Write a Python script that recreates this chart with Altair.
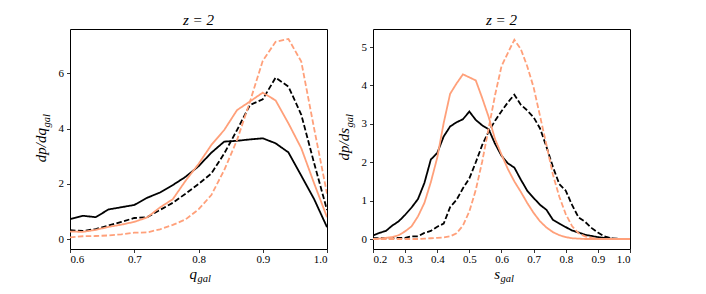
import altair as alt
import pandas as pd

# ---------------- data ----------------
q_x = [0.60, 0.62, 0.64, 0.66, 0.68, 0.70, 0.72, 0.74, 0.76, 0.78, 0.80,
       0.82, 0.84, 0.86, 0.88, 0.90, 0.92, 0.94, 0.96, 0.98, 1.00]
q_black_solid = [0.73, 0.85, 0.80, 1.08, 1.16, 1.24, 1.50, 1.69, 1.96, 2.26, 2.64,
                 3.13, 3.53, 3.56, 3.61, 3.65, 3.47, 3.14, 2.30, 1.45, 0.44]
q_black_dashed = [0.33, 0.30, 0.37, 0.50, 0.63, 0.77, 0.80, 1.06, 1.32, 1.65, 2.00,
                  2.38, 3.10, 3.95, 4.85, 5.06, 5.84, 5.52, 4.50, 2.75, 1.06]
q_orange_solid = [0.28, 0.27, 0.34, 0.45, 0.53, 0.63, 0.79, 1.15, 1.45, 2.12, 2.72,
                  3.41, 3.95, 4.67, 4.98, 5.30, 5.02, 4.19, 3.29, 2.02, 0.80]
q_orange_dashed = [0.07, 0.11, 0.12, 0.14, 0.18, 0.24, 0.25, 0.36, 0.52, 0.72, 1.08,
                   1.60, 2.50, 3.59, 4.97, 6.45, 7.14, 7.24, 6.42, 4.00, 1.65]

s_x = [0.20, 0.22, 0.24, 0.26, 0.28, 0.30, 0.32, 0.34, 0.36, 0.38, 0.40,
       0.42, 0.44, 0.46, 0.48, 0.50, 0.52, 0.54, 0.56, 0.58, 0.60,
       0.62, 0.64, 0.66, 0.68, 0.70, 0.72, 0.74, 0.76, 0.78, 0.80,
       0.82, 0.84, 0.86, 0.88, 0.90, 0.92, 0.94, 0.96, 0.98, 1.00]
s_black_solid = [0.09, 0.16, 0.21, 0.35, 0.46, 0.63, 0.82, 1.04, 1.46, 2.07, 2.24,
                 2.67, 2.93, 3.04, 3.12, 3.32, 3.10, 2.96, 2.86, 2.48, 2.17,
                 1.97, 1.86, 1.55, 1.26, 1.07, 0.89, 0.76, 0.50, 0.40, 0.31,
                 0.22, 0.17, 0.11, 0.08, 0.05, 0.03, 0.01, 0.00, 0.00, 0.00]
s_black_dashed = [0.02, 0.02, 0.02, 0.02, 0.03, 0.03, 0.07, 0.07, 0.16, 0.21, 0.32,
                  0.40, 0.83, 1.02, 1.32, 1.58, 2.00, 2.45, 2.80, 3.08, 3.33,
                  3.56, 3.76, 3.50, 3.35, 3.17, 2.88, 2.40, 1.88, 1.43, 1.26,
                  0.88, 0.56, 0.45, 0.29, 0.17, 0.07, 0.02, 0.01, 0.00, 0.00]
s_orange_solid = [0.00, 0.01, 0.03, 0.05, 0.10, 0.20, 0.33, 0.59, 0.94, 1.48, 2.12,
                  3.02, 3.78, 4.05, 4.29, 4.21, 4.13, 3.67, 3.18, 2.60, 2.20,
                  1.82, 1.50, 1.23, 0.94, 0.68, 0.46, 0.30, 0.18, 0.10, 0.05,
                  0.02, 0.01, 0.00, 0.00, 0.00, 0.00, 0.00, 0.00, 0.00, 0.00]
s_orange_dashed = [0.00, 0.00, 0.00, 0.00, 0.00, 0.00, 0.00, 0.00, 0.01, 0.02, 0.03,
                   0.04, 0.07, 0.15, 0.35, 0.72, 1.28, 2.02, 2.88, 3.75, 4.50,
                   4.85, 5.19, 4.95, 4.50, 3.95, 3.20, 2.45, 1.68, 1.10, 0.65,
                   0.33, 0.15, 0.07, 0.03, 0.01, 0.00, 0.00, 0.00, 0.00, 0.00]

q_ticks = [0.6, 0.7, 0.8, 0.9, 1.0]
q_yticks = [0, 2, 4, 6]
s_ticks = [0.2, 0.3, 0.4, 0.5, 0.6, 0.7, 0.8, 0.9, 1.0]
s_yticks = [0, 1, 2, 3, 4, 5]

SERIES = ["black_solid", "black_dashed", "orange_solid", "orange_dashed"]
COLORS = ["#000000", "#000000", "#FFA07A", "#FFA07A"]
DASHES = [[1, 0], [5.5, 2.4], [1, 0], [5.5, 2.4]]

SERIF = "Liberation Serif"
W, H = 257, 220


def long_df(x, cols):
    rows = []
    for name, vals in zip(SERIES, cols):
        for xv, yv in zip(x, vals):
            rows.append({"x": xv, "y": yv, "series": name})
    return pd.DataFrame(rows)


def label(text, x, y, size, align, angle=0):
    return alt.Chart(pd.DataFrame({"t": [text]})).mark_text(
        font=SERIF, fontStyle="italic", fontSize=size, align=align,
        baseline="alphabetic", angle=angle, color="#000"
    ).encode(x=alt.value(x), y=alt.value(y), text="t:N")


def panel(df, xdom, ydom, xticks, yticks, xmain, ymain):
    lines = alt.Chart(df).mark_line(strokeWidth=1.8, clip=True).encode(
        x=alt.X("x:Q", scale=alt.Scale(domain=xdom, nice=False, zero=False),
                axis=alt.Axis(values=xticks, format=".1f", title=None,
                              labelFont=SERIF, labelFontSize=11, labelPadding=1)),
        y=alt.Y("y:Q", scale=alt.Scale(domain=ydom, nice=False, zero=False),
                axis=alt.Axis(values=yticks, format="d", title=None,
                              labelFont=SERIF, labelFontSize=11, labelPadding=3)),
        color=alt.Color("series:N", scale=alt.Scale(domain=SERIES, range=COLORS), legend=None),
        strokeDash=alt.StrokeDash("series:N", scale=alt.Scale(domain=SERIES, range=DASHES), legend=None),
    )
    # x axis title  (main letter + subscript)
    xa = 127
    xt1 = label(xmain, xa, 249.5, 15, "right")
    xt2 = label("gal", xa + 0.5, 253, 10.5, "left")
    # y axis title, rotated
    ya = 99
    yt1 = label(ymain, -24, ya, 15, "right", angle=270)
    yt2 = label("gal", -20.5, ya - 0.5, 10.5, "left", angle=270)
    return alt.layer(lines, xt1, xt2, yt1, yt2).properties(
        width=W, height=H,
        title=alt.TitleParams("z = 2", font=SERIF, fontSize=15, fontStyle="italic",
                              fontWeight="normal", color="#000", offset=1),
    )


left = panel(long_df(q_x, [q_black_solid, q_black_dashed, q_orange_solid, q_orange_dashed]),
             [0.6, 1.0], [-0.35, 7.6], q_ticks, q_yticks, "q", "dp/dq")
right = panel(long_df(s_x, [s_black_solid, s_black_dashed, s_orange_solid, s_orange_dashed]),
              [0.2, 1.0], [-0.26, 5.47], s_ticks, s_yticks, "s", "dp/ds")

chart = alt.hconcat(left, right, spacing=8).properties(
    padding={"left": 25, "top": 4, "right": 5, "bottom": 2}
).configure_view(
    stroke="#000", strokeWidth=1
).configure_axis(
    domain=False, grid=False,
    labelFont=SERIF, labelFontSize=11, labelColor="#000",
    tickColor="#000", tickSize=3.5, tickWidth=0.8,
).configure_title(
    font=SERIF, fontSize=15, fontStyle="italic", fontWeight="normal",
    color="#000", anchor="middle",
)

chart.save("out.html", embed_options={"renderer": "svg", "actions": False})
